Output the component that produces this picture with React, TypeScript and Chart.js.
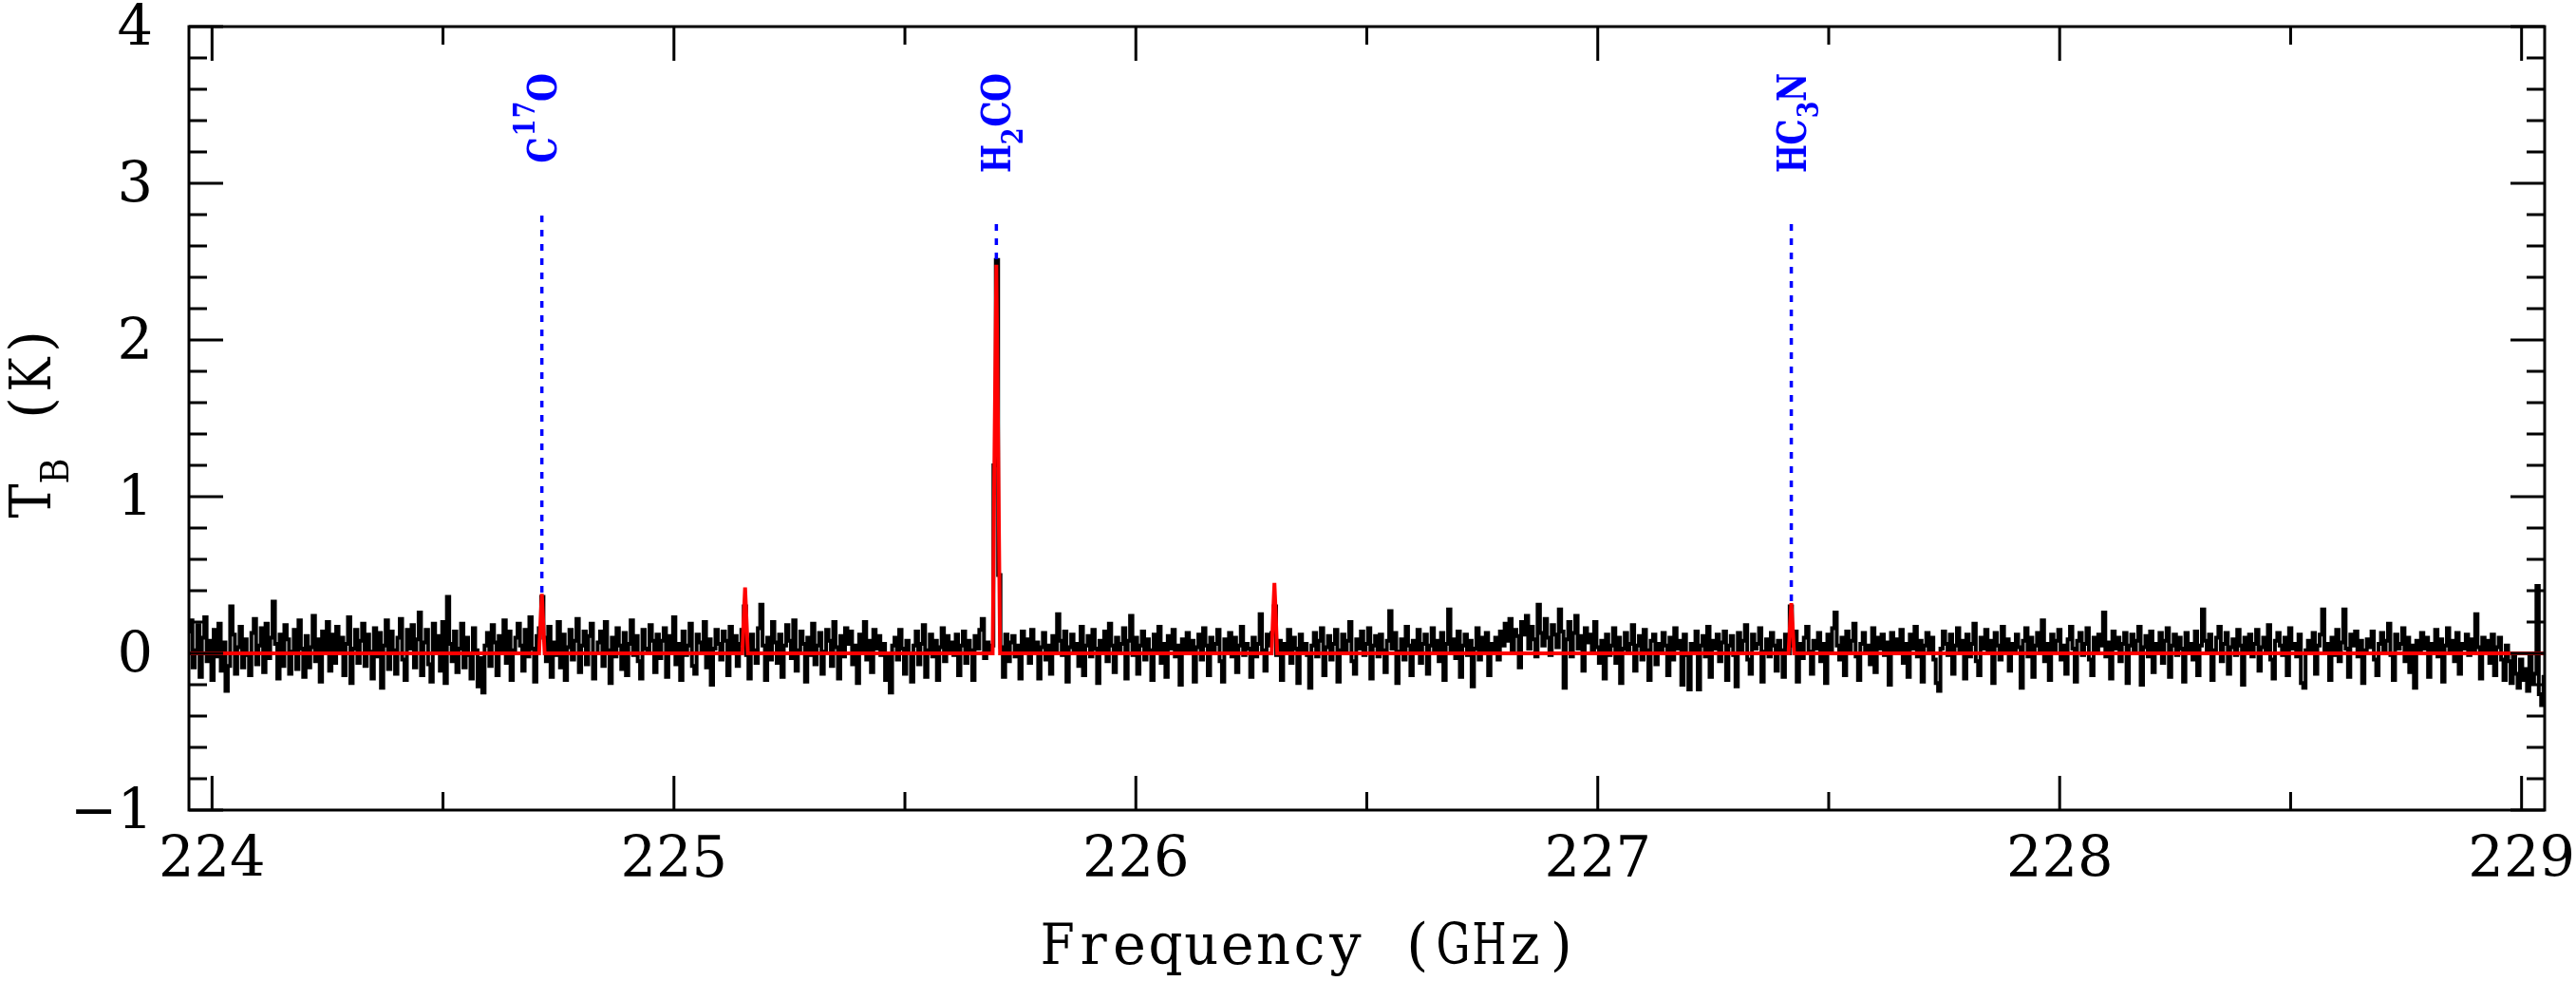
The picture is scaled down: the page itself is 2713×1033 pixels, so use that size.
import React, { useEffect, useRef } from 'react';
import { Chart, registerables } from 'chart.js';

Chart.register(...registerables);

// ---------- data ----------
const freqStart = 223.95; // GHz, first channel
const channelWidth = 0.0051; // GHz per channel

const observedT = [
  0.14, 0.21, -0.09, 0.02, 0.18, -0.15, 0.10, 0.23, -0.05, 0.08, -0.17, 0.15, -0.02, 0.19, -0.11, 0.07, -0.24, -0.08, 0.30, 0.12, -0.13, 0.04, 0.17, -0.09, 0.09,
  -0.01, -0.14, 0.13, 0.22, -0.07, 0.05, 0.16, -0.12, 0.19, -0.03, 0.10, 0.33, 0.06, -0.16, 0.12, -0.08, 0.18, 0.09, -0.13, 0.01, 0.15, -0.10, 0.21, 0.03, -0.15,
  0.11, -0.09, 0.04, 0.24, -0.05, 0.09, -0.18, 0.14, 0.02, 0.20, -0.11, 0.12, -0.06, 0.17, 0.00, 0.10, -0.14, 0.06, 0.23, -0.19, 0.03, 0.15, -0.06, 0.08, 0.19,
  -0.08, 0.12, 0.01, -0.16, 0.16, -0.02, 0.13, -0.22, 0.05, 0.21, -0.10, 0.14, 0.02, -0.13, 0.10, 0.22, -0.04, -0.17, 0.15, 0.03, 0.18, -0.09, 0.09, 0.26, -0.14,
  0.07, 0.15, -0.07, -0.18, 0.19, 0.00, 0.11, -0.11, 0.20, -0.19, 0.36, 0.06, -0.05, 0.14, -0.12, 0.03, 0.19, -0.09, 0.10, -0.01, -0.16, 0.16, 0.02, -0.21, -0.03,
  -0.25, 0.05, 0.13, -0.08, 0.18, 0.07, -0.14, 0.11, 0.00, 0.21, -0.06, 0.14, -0.17, 0.02, 0.10, 0.19, 0.05, -0.11, 0.15, -0.02, 0.23, 0.03, -0.18, 0.11, 0.16,
  0.36, 0.10, -0.05, 0.17, -0.15, 0.07, -0.01, 0.20, -0.09, 0.12, -0.17, 0.04, 0.15, -0.04, 0.08, 0.22, -0.12, 0.05, 0.14, -0.07, 0.11, 0.19, -0.16, 0.00, 0.07,
  0.14, -0.08, 0.20, 0.02, -0.19, 0.10, -0.02, 0.16, 0.05, -0.10, 0.13, -0.14, 0.06, 0.21, -0.01, 0.11, -0.05, -0.16, 0.15, 0.03, 0.00, 0.18, 0.08, -0.12, 0.12,
  -0.03, 0.08, 0.16, -0.15, 0.11, 0.02, 0.23, -0.07, 0.06, -0.17, 0.14, -0.01, 0.05, 0.19, -0.08, -0.13, 0.12, 0.07, 0.00, 0.20, -0.09, 0.09, -0.20, 0.03, 0.15,
  0.06, -0.04, 0.14, 0.08, -0.14, 0.17, 0.01, 0.11, -0.08, 0.06, 0.15, 0.30, -0.01, -0.16, 0.12, 0.02, -0.06, 0.16, 0.31, 0.05, -0.17, 0.10, -0.04, 0.20, 0.07,
  -0.06, 0.12, -0.15, 0.05, 0.18, 0.08, -0.03, 0.21, -0.11, 0.02, 0.14, 0.06, -0.18, 0.10, -0.01, 0.19, -0.07, 0.05, 0.13, -0.13, 0.01, 0.15, 0.08, -0.08, 0.20,
  0.04, -0.16, 0.11, -0.02, 0.16, 0.06, 0.14, -0.07, 0.05, -0.19, 0.12, 0.00, 0.20, -0.04, 0.08, -0.12, 0.15, 0.03, 0.11, -0.01, 0.06, -0.17, -0.02, -0.25, 0.05,
  0.10, -0.04, 0.15, 0.03, -0.13, 0.08, 0.00, -0.18, 0.05, 0.14, -0.07, 0.06, 0.18, -0.15, 0.02, 0.12, -0.02, 0.08, -0.17, 0.04, 0.16, -0.05, 0.11, 0.02, 0.07,
  -0.01, 0.12, -0.14, 0.05, 0.14, -0.06, 0.08, 0.02, -0.17, 0.11, 0.03, 0.15, 0.22, -0.03, 0.07, 0.00, 0.05, 1.20, 2.51, 0.50, 0.04, -0.15, 0.12, -0.05, 0.07,
  0.11, -0.02, 0.05, -0.16, 0.14, 0.02, 0.09, -0.06, 0.15, 0.00, 0.07, -0.16, 0.04, 0.13, -0.04, 0.05, -0.13, 0.11, 0.01, 0.25, 0.08, -0.01, 0.14, -0.18, 0.04,
  0.12, 0.00, 0.06, -0.08, 0.17, -0.14, 0.05, 0.11, -0.02, 0.15, 0.03, -0.19, 0.08, 0.02, 0.14, -0.05, 0.19, 0.05, -0.12, 0.10, 0.00, 0.06, 0.16, -0.16, 0.08,
  0.24, -0.01, 0.10, -0.13, 0.05, 0.14, -0.04, 0.09, 0.02, -0.17, 0.12, 0.00, 0.17, -0.06, 0.06, -0.15, 0.11, 0.03, 0.15, -0.02, 0.05, -0.20, 0.09, 0.01, 0.13,
  0.02, 0.08, -0.18, 0.04, 0.12, -0.04, 0.16, 0.05, -0.14, 0.10, 0.00, 0.06, 0.15, -0.05, -0.18, 0.09, 0.02, 0.13, -0.02, 0.10, -0.12, 0.05, 0.17, -0.01, 0.06,
  0.03, -0.15, 0.10, -0.02, 0.06, 0.25, 0.02, -0.11, 0.12, 0.05, 0.13, 0.30, -0.01, 0.08, -0.17, 0.06, 0.00, 0.15, -0.06, 0.10, 0.03, -0.19, 0.12, 0.02, 0.06,
  -0.01, -0.22, 0.05, 0.13, -0.02, 0.08, 0.16, -0.14, 0.04, 0.11, -0.04, 0.06, 0.15, -0.18, 0.02, 0.12, 0.01, 0.08, 0.20, -0.05, -0.13, 0.09, 0.03, 0.14, -0.01,
  0.06, 0.16, -0.16, 0.05, 0.11, -0.02, 0.12, 0.02, -0.12, 0.08, 0.27, 0.03, 0.13, -0.19, 0.01, 0.09, -0.04, 0.17, 0.05, -0.14, 0.08, 0.01, 0.15, -0.06, 0.06,
  0.12, -0.13, 0.05, 0.16, 0.00, 0.08, -0.05, 0.13, -0.17, 0.06, 0.28, 0.02, 0.09, -0.03, 0.14, -0.15, 0.05, 0.12, -0.01, 0.08, -0.21, 0.03, 0.16, -0.04, 0.10,
  0.02, 0.13, -0.14, 0.06, 0.00, 0.10, -0.04, 0.14, 0.05, 0.19, 0.08, 0.22, 0.01, 0.15, 0.11, -0.09, 0.20, 0.12, 0.24, 0.03, 0.17, 0.09, -0.02, 0.31, 0.13,
  0.05, 0.22, 0.10, -0.01, 0.18, 0.12, 0.04, 0.28, 0.14, -0.22, 0.09, 0.20, -0.02, 0.13, 0.24, 0.03, 0.11, -0.11, 0.16, 0.07, 0.12, 0.00, 0.20, 0.04, -0.06,
  0.08, -0.16, 0.12, -0.01, 0.05, 0.16, -0.06, 0.10, -0.19, 0.03, 0.13, 0.00, 0.06, 0.18, -0.11, 0.05, 0.11, -0.04, 0.15, 0.02, -0.17, 0.08, 0.12, -0.07, 0.06,
  0.01, 0.13, 0.05, -0.14, 0.10, -0.04, 0.16, 0.03, 0.08, -0.20, 0.12, -0.01, -0.23, 0.06, 0.02, 0.14, -0.23, 0.05, 0.11, -0.02, 0.17, -0.15, 0.08, 0.03, 0.12,
  -0.05, 0.07, 0.14, -0.17, 0.05, 0.11, -0.01, -0.21, 0.13, 0.02, 0.08, 0.18, -0.04, -0.13, 0.12, 0.03, 0.06, 0.16, -0.18, 0.01, 0.09, -0.02, 0.13, 0.05, -0.11,
  0.08, 0.02, -0.15, 0.12, 0.00, 0.30, 0.05, 0.14, -0.18, 0.06, -0.03, 0.10, 0.17, 0.01, -0.13, 0.08, 0.03, 0.13, -0.05, 0.06, -0.19, 0.12, 0.02, 0.16, 0.26,
  0.05, -0.04, 0.10, -0.14, 0.14, 0.02, 0.08, 0.19, -0.02, -0.17, 0.06, 0.13, 0.00, 0.05, -0.07, 0.16, -0.12, 0.10, 0.03, 0.12, -0.01, 0.07, -0.20, 0.13, 0.02,
  0.09, 0.01, 0.15, -0.06, 0.06, -0.15, 0.12, 0.03, 0.17, -0.02, 0.08, -0.18, 0.05, 0.13, 0.00, 0.10, -0.04, -0.19, -0.24, 0.03, 0.14, 0.06, -0.01, 0.12, -0.13,
  0.05, 0.16, 0.02, 0.08, -0.16, 0.12, -0.02, 0.06, 0.19, -0.05, -0.14, 0.10, 0.03, 0.15, 0.00, 0.08, -0.19, 0.13, 0.05, -0.04, 0.17, 0.02, 0.09, -0.11, 0.06,
  0.00, 0.12, 0.04, -0.22, 0.08, 0.16, -0.02, 0.10, -0.15, 0.05, 0.13, 0.02, 0.21, -0.05, 0.06, -0.17, 0.12, 0.01, 0.08, 0.15, -0.04, 0.05, -0.13, 0.09, 0.17,
  0.03, -0.18, 0.08, 0.13, -0.01, 0.06, 0.16, -0.04, -0.14, 0.10, 0.02, 0.12, 0.05, 0.26, -0.02, 0.07, -0.16, 0.14, 0.03, 0.10, -0.05, 0.06, 0.13, -0.19, 0.05,
  0.12, 0.01, 0.08, 0.17, -0.20, 0.04, 0.11, -0.02, 0.14, -0.12, 0.06, 0.02, 0.13, -0.06, 0.08, 0.16, -0.15, 0.05, 0.12, -0.01, 0.10, 0.03, -0.18, 0.13, 0.01,
  0.06, -0.04, 0.14, -0.14, 0.05, 0.28, 0.08, 0.00, 0.12, -0.17, 0.02, 0.10, 0.17, -0.05, 0.06, 0.13, -0.13, 0.04, 0.09, -0.01, 0.15, 0.05, -0.20, 0.10, 0.02,
  0.12, -0.02, 0.06, 0.15, -0.11, 0.04, 0.10, 0.01, 0.18, -0.04, -0.16, 0.08, 0.13, 0.05, -0.01, 0.10, -0.14, 0.16, 0.03, 0.06, -0.02, 0.12, -0.19, -0.22, 0.02,
  0.08, 0.01, 0.13, -0.13, 0.05, 0.12, 0.28, 0.02, 0.06, -0.17, 0.10, -0.01, 0.15, -0.05, 0.07, 0.28, 0.03, -0.15, 0.12, 0.05, 0.14, -0.02, 0.08, -0.19, 0.02,
  0.09, 0.04, 0.14, -0.04, -0.14, 0.06, 0.13, 0.02, 0.08, 0.19, -0.01, -0.17, 0.12, 0.03, 0.06, 0.16, -0.05, 0.10, -0.12, 0.05, -0.22, 0.08, 0.01, 0.13, 0.03,
  0.10, -0.15, 0.06, 0.02, 0.15, -0.02, 0.09, -0.18, 0.05, 0.16, 0.01, 0.08, -0.05, 0.13, -0.13, 0.06, 0.03, 0.12, -0.01, 0.09, 0.02, 0.25, 0.04, -0.16, 0.10,
  0.01, 0.08, -0.06, 0.12, -0.14, 0.04, 0.10, -0.04, -0.17, 0.05, -0.05, -0.19, 0.00, -0.13, -0.22, -0.04, -0.17, -0.10, -0.24, -0.02, -0.19, -0.13, 0.43, -0.26, -0.33,
  -0.15,
];

const modelFreq = [
  223.95,
  224.708, 224.711, 224.714, 224.717, 224.720,
  225.148, 225.151, 225.154, 225.157, 225.160,
  225.690, 225.694, 225.698, 225.702, 225.706,
  226.294, 226.297, 226.300, 226.303, 226.306,
  227.413, 227.416, 227.419, 227.422, 227.425,
  229.05,
];
const modelT = [
  0,
  0, 0.2, 0.38, 0.2, 0,
  0, 0.22, 0.42, 0.22, 0,
  0, 1.3, 2.48, 1.3, 0,
  0, 0.24, 0.45, 0.24, 0,
  0, 0.17, 0.32, 0.17, 0,
  0,
];

const speciesLabels = ['C^{17}O', 'H_{2}CO', 'HC_{3}N'];
const speciesFreq = [224.714, 225.698, 227.419];
const speciesPeak = [0.38, 2.51, 0.32];

const xMin = 223.95;
const xMax = 229.05;
const yMin = -1;
const yMax = 4;

const xMajorTicks = [224, 225, 226, 227, 228, 229];
const xTickLabels = ['224', '225', '226', '227', '228', '229'];
const xMinorTicks = [224.5, 225.5, 226.5, 227.5, 228.5];
const yMajorTicks = [-1, 0, 1, 2, 3, 4];
const yTickLabels = ['\u22121', '0', '1', '2', '3', '4'];
const yMinorTicks = [
  -0.8, -0.6, -0.4, -0.2, 0.2, 0.4, 0.6, 0.8, 1.2, 1.4, 1.6, 1.8,
  2.2, 2.4, 2.6, 2.8, 3.2, 3.4, 3.6, 3.8,
];

const xTitle = 'Frequency (GHz)';
const yTitle = 'T_{B} (K)';

// ---------- helpers ----------
type Seg = { t: string; k: 'n' | 'sub' | 'sup' };
function parseRich(s: string): Seg[] {
  const out: Seg[] = [];
  let i = 0;
  let buf = '';
  while (i < s.length) {
    const c = s[i];
    if ((c === '_' || c === '^') && s[i + 1] === '{') {
      if (buf) { out.push({ t: buf, k: 'n' }); buf = ''; }
      const end = s.indexOf('}', i + 2);
      out.push({ t: s.slice(i + 2, end), k: c === '_' ? 'sub' : 'sup' });
      i = end + 1;
    } else {
      buf += c;
      i++;
    }
  }
  if (buf) out.push({ t: buf, k: 'n' });
  return out;
}

type MonoStyle = {
  mainFont: string;
  smallFont: string;
  mainCell: number;
  smallCell: number;
  sx: number;
  maxGlyph: number;
  maxSmall: number;
  supRaise: number;
  subLower: number;
};

function monoLength(segs: Seg[], st: MonoStyle) {
  let L = 0;
  for (const s of segs) L += s.t.length * (s.k === 'n' ? st.mainCell : st.smallCell);
  return L;
}

// typewriter-like text: every glyph centred in a fixed cell
function drawMono(
  ctx: CanvasRenderingContext2D,
  segs: Seg[],
  st: MonoStyle,
  x0: number,
  y0: number,
  rotated: boolean,
  color: string,
) {
  ctx.save();
  ctx.translate(x0, y0);
  if (rotated) ctx.rotate(-Math.PI / 2);
  ctx.fillStyle = color;
  ctx.textAlign = 'center';
  ctx.textBaseline = 'alphabetic';
  let u = 0;
  for (const s of segs) {
    const small = s.k !== 'n';
    ctx.font = small ? st.smallFont : st.mainFont;
    const cell = small ? st.smallCell : st.mainCell;
    const maxW = small ? st.maxSmall : st.maxGlyph;
    const v = s.k === 'sup' ? -st.supRaise : s.k === 'sub' ? st.subLower : 0;
    for (const ch of s.t) {
      if (ch !== ' ') {
        const w = ctx.measureText(ch).width;
        const k = Math.min(st.sx, maxW / Math.max(w, 1));
        ctx.save();
        ctx.translate(u + cell / 2, v);
        ctx.scale(k, 1);
        ctx.fillText(ch, 0, 0);
        ctx.restore();
      }
      u += cell;
    }
  }
  ctx.restore();
}

function drawScaledText(
  ctx: CanvasRenderingContext2D,
  text: string,
  x: number,
  y: number,
  font: string,
  align: 'left' | 'center' | 'right',
  sx: number,
) {
  ctx.save();
  ctx.font = font;
  ctx.textAlign = align;
  ctx.textBaseline = 'alphabetic';
  ctx.translate(x, y);
  ctx.scale(sx, 1);
  ctx.fillText(text, 0, 0);
  ctx.restore();
}

const SERIF = '"DejaVu Serif", "Liberation Serif", serif';

const xTitleStyle: MonoStyle = {
  mainFont: `59px ${SERIF}`,
  smallFont: `41px ${SERIF}`,
  mainCell: 37.9,
  smallCell: 28,
  sx: 1.0,
  maxGlyph: 36,
  maxSmall: 27,
  supRaise: 0,
  subLower: 19,
};

const yTitleStyle: MonoStyle = { ...xTitleStyle, mainCell: 35 };

const labelStyle: MonoStyle = {
  mainFont: `bold 42px ${SERIF}`,
  smallFont: `bold 31px ${SERIF}`,
  mainCell: 28,
  smallCell: 19,
  sx: 0.82,
  maxGlyph: 30,
  maxSmall: 18,
  supRaise: 23,
  subLower: 13,
};

const decorPlugin = {
  id: 'decor',
  afterDraw(chart: any) {
    const ctx: CanvasRenderingContext2D = chart.ctx;
    const xs = chart.scales.x;
    const ys = chart.scales.y;
    const { left, right, top, bottom } = chart.chartArea;
    ctx.save();

    // species labels + dotted markers
    const labelEnd = 78;
    const capH = 30;
    speciesLabels.forEach((lab, i) => {
      const segs = parseRich(lab);
      const px = xs.getPixelForValue(speciesFreq[i]);
      const L = monoLength(segs, labelStyle);
      const startY = labelEnd + L;
      drawMono(ctx, segs, labelStyle, px + capH / 2, startY, true, '#0000ff');
      const lineTop = startY + 55;
      const lineBot = ys.getPixelForValue(speciesPeak[i]);
      ctx.save();
      ctx.strokeStyle = '#0000ff';
      ctx.lineWidth = 3.5;
      ctx.setLineDash([7, 8]);
      ctx.beginPath();
      ctx.moveTo(px, lineTop);
      ctx.lineTo(px, lineBot);
      ctx.stroke();
      ctx.restore();
    });

    // frame
    ctx.strokeStyle = '#000';
    ctx.lineWidth = 3;
    ctx.setLineDash([]);
    ctx.strokeRect(left, top, right - left, bottom - top);

    // ticks (inward, all four sides)
    const majorLen = 36;
    const minorLen = 19;
    ctx.beginPath();
    xMajorTicks.forEach((v) => {
      const x = xs.getPixelForValue(v);
      ctx.moveTo(x, bottom); ctx.lineTo(x, bottom - majorLen);
      ctx.moveTo(x, top); ctx.lineTo(x, top + majorLen);
    });
    xMinorTicks.forEach((v) => {
      const x = xs.getPixelForValue(v);
      ctx.moveTo(x, bottom); ctx.lineTo(x, bottom - minorLen);
      ctx.moveTo(x, top); ctx.lineTo(x, top + minorLen);
    });
    yMajorTicks.forEach((v) => {
      const y = ys.getPixelForValue(v);
      ctx.moveTo(left, y); ctx.lineTo(left + majorLen, y);
      ctx.moveTo(right, y); ctx.lineTo(right - majorLen, y);
    });
    yMinorTicks.forEach((v) => {
      const y = ys.getPixelForValue(v);
      ctx.moveTo(left, y); ctx.lineTo(left + minorLen, y);
      ctx.moveTo(right, y); ctx.lineTo(right - minorLen, y);
    });
    ctx.stroke();

    // tick labels
    ctx.fillStyle = '#000';
    const numFont = `59px ${SERIF}`;
    xMajorTicks.forEach((v, i) => {
      const x = xs.getPixelForValue(v);
      drawScaledText(ctx, xTickLabels[i], x, bottom + 70, numFont, 'center', 1.0);
    });
    yMajorTicks.forEach((v, i) => {
      const y = ys.getPixelForValue(v);
      drawScaledText(ctx, yTickLabels[i], left - 38, y + 20, numFont, 'right', 1.0);
    });

    // axis titles
    const xSegs = parseRich(xTitle);
    const Lx = monoLength(xSegs, xTitleStyle);
    drawMono(ctx, xSegs, xTitleStyle, 1379 - Lx / 2, 1015, false, '#000');
    const ySegs = parseRich(yTitle);
    drawMono(ctx, ySegs, yTitleStyle, 53, 545, true, '#000');

    ctx.restore();
  },
};

export default function App() {
  const ref = useRef<HTMLCanvasElement | null>(null);

  useEffect(() => {
    document.body.style.margin = '0';
    document.body.style.overflow = 'hidden';
    const canvas = ref.current;
    if (!canvas) return;
    const observed = observedT.map((t, i) => ({ x: freqStart + i * channelWidth, y: t }));
    const model = modelFreq.map((f, i) => ({ x: f, y: modelT[i] }));
    const chart = new Chart(canvas, {
      type: 'line',
      data: {
        datasets: [
          {
            label: 'observed',
            data: observed,
            borderColor: '#000000',
            borderWidth: 4,
            stepped: 'middle',
            pointRadius: 0,
            fill: false,
            order: 2,
          },
          {
            label: 'model',
            data: model,
            borderColor: '#ff0000',
            borderWidth: 4,
            pointRadius: 0,
            tension: 0,
            fill: false,
            order: 1,
          },
        ],
      },
      options: {
        animation: false,
        responsive: false,
        devicePixelRatio: 1,
        events: [],
        layout: { padding: { left: 199, right: 33, top: 28, bottom: 180 } },
        plugins: { legend: { display: false }, tooltip: { enabled: false } },
        scales: {
          x: { type: 'linear', min: xMin, max: xMax, display: false },
          y: { type: 'linear', min: yMin, max: yMax, display: false },
        },
      },
      plugins: [decorPlugin],
    } as any);
    return () => chart.destroy();
  }, []);

  return (
    <div style={{ width: 2713, height: 1033, background: '#fff' }}>
      <canvas ref={ref} width={2713} height={1033} style={{ display: 'block', width: 2713, height: 1033 }} />
    </div>
  );
}
